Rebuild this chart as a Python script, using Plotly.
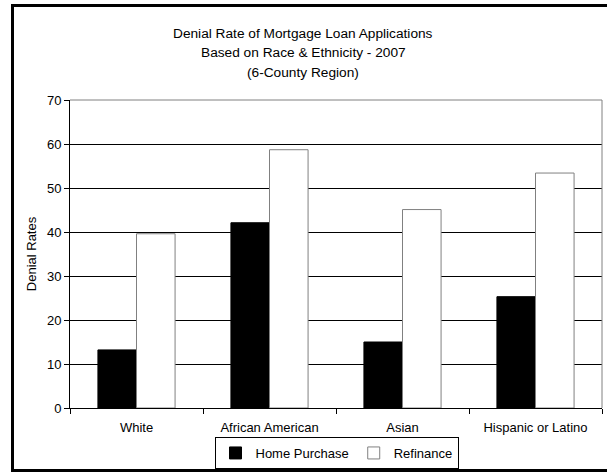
import plotly.graph_objects as go

categories = ["White", "African American", "Asian", "Hispanic or Latino"]
home_purchase = [13.2, 42.1, 15.0, 25.3]
refinance = [39.6, 58.7, 45.1, 53.4]
title_lines = ["Denial Rate of Mortgage Loan Applications",
               "Based on Race & Ethnicity - 2007",
               "(6-County Region)"]
y_ticks = [0, 10, 20, 30, 40, 50, 60, 70]

FONT = "Arial, Liberation Sans, sans-serif"

fig = go.Figure()
fig.add_trace(go.Bar(name="Home Purchase", x=categories, y=home_purchase,
                     marker=dict(color="black", line=dict(color="black", width=1))))
fig.add_trace(go.Bar(name="Refinance", x=categories, y=refinance,
                     marker=dict(color="white", line=dict(color="#808080", width=1))))

L, R, T, B = 70, 5, 100, 64
W, H = 607, 472
pw, ph = W - L - R, H - T - B

def px_x(p):
    return (p - L) / pw

def px_y(p):
    return (H - B - p) / ph

shapes = [
    dict(type="line", xref="paper", yref="paper", x0=0, x1=1, y0=1, y1=1,
         line=dict(color="#808080", width=1), layer="above"),
    dict(type="line", xref="paper", yref="paper", x0=1, x1=1, y0=0, y1=1,
         line=dict(color="#808080", width=1), layer="above"),
    dict(type="rect", xref="paper", yref="paper",
         x0=px_x(12.5), x1=px_x(625), y0=px_y(470.5), y1=px_y(5.5),
         line=dict(color="black", width=3), fillcolor="rgba(0,0,0,0)", layer="above"),
]

annotations = []
for t, ypx in zip(title_lines, [33, 53, 72]):
    annotations.append(dict(text=t, xref="paper", yref="paper", x=px_x(303), y=px_y(ypx),
                            xanchor="center", yanchor="middle", showarrow=False,
                            font=dict(family=FONT, size=13.7, color="black")))

fig.update_layout(
    width=W, height=H,
    margin=dict(l=L, r=R, t=T, b=B, pad=0, autoexpand=False),
    paper_bgcolor="white", plot_bgcolor="white",
    barmode="group", bargap=0.42, bargroupgap=0,
    font=dict(family=FONT, size=13, color="black"),
    showlegend=True,
    legend=dict(orientation="h", x=px_x(336.5), xanchor="center", y=px_y(453), yanchor="middle",
                bordercolor="black", borderwidth=1, bgcolor="white",
                font=dict(family=FONT, size=13, color="black"),
                itemwidth=30, tracegroupgap=0),
    shapes=shapes,
    annotations=annotations,
)
fig.update_xaxes(showline=True, linecolor="black", linewidth=1, ticks="outside",
                 tickson="boundaries", ticklen=5, tickcolor="black", showgrid=False,
                 ticklabelstandoff=7, automargin=False,
                 tickfont=dict(family=FONT, size=13, color="black"))
fig.update_yaxes(range=[0, 70], tickvals=y_ticks, showline=True, linecolor="black",
                 linewidth=1, ticks="outside", ticklen=5, tickcolor="black",
                 showgrid=True, gridcolor="black", gridwidth=1, zeroline=False,
                 automargin=False,
                 title=dict(text="Denial Rates", font=dict(family=FONT, size=13, color="black"),
                            standoff=7),
                 tickfont=dict(family=FONT, size=13, color="black"))

fig.write_html("out.html", config={"displayModeBar": False},
               post_script="document.body.style.margin='0';document.body.style.overflow='hidden';")
